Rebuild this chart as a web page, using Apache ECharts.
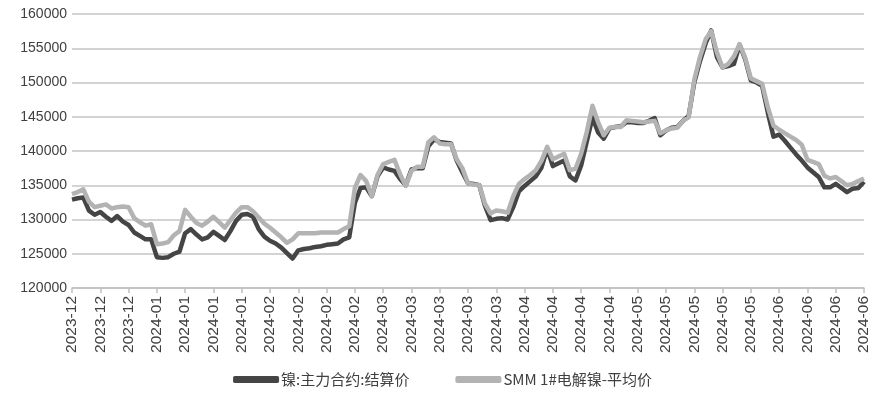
<!DOCTYPE html>
<html>
<head>
<meta charset="utf-8">
<script src="https://cdn.jsdelivr.net/npm/echarts@6/dist/echarts.min.js"></script>
<style>
html,body{margin:0;padding:0;background:#fff;}
#chart{width:885px;height:396px;}
</style>
</head>
<body>
<div id="chart"></div>
<script>
const tickLabels = ["2023-12","2023-12","2023-12","2024-01","2024-01","2024-01","2024-01","2024-02","2024-02","2024-02","2024-02","2024-03","2024-03","2024-03","2024-03","2024-03","2024-04","2024-04","2024-04","2024-04","2024-05","2024-05","2024-05","2024-05","2024-05","2024-06","2024-06","2024-06","2024-06"];
const pointsPerTick = 5;

const seriesNames = ["镍:主力合约:结算价", "SMM 1#电解镍-平均价"];

const futuresSettle = [
132900,133100,133200,131300,130700,131100,130400,129800,130500,129700,
129200,128100,127600,127100,127100,124500,124400,124500,125000,125300,
128000,128600,127800,127100,127400,128200,127600,127000,128300,129800,
130700,130800,130400,128600,127500,126900,126500,125900,125100,124300,
125500,125700,125800,126000,126100,126300,126400,126500,127100,127400,
132400,134600,134700,133400,136300,137600,137300,137100,135900,135000,
137300,137500,137500,140700,141700,141300,141200,141100,138600,136900,
135300,135200,135000,132000,129900,130100,130200,130000,131800,134100,
134900,135600,136300,137600,140300,137800,138200,138600,136300,135700,
137900,141400,144900,142700,141800,143300,143500,143600,144200,144200,
144100,144100,144400,144800,142300,143000,143400,143500,144400,145100,
150000,153100,155700,157600,153700,152200,152400,152700,155500,153400,
150300,150000,149500,145600,142100,142400,141500,140500,139500,138600,
137600,136900,136200,134700,134700,135200,134600,134000,134500,134600,
135500
];

const smmAverage = [
133700,134000,134400,132600,131800,132000,132200,131600,131800,131900,
131800,130200,129600,129100,129300,126400,126500,126700,127700,128300,
131400,130400,129500,129100,129700,130400,129600,128800,129900,131000,
131800,131800,131200,130300,129400,128800,128100,127400,126600,127100,
128000,128000,128000,128000,128100,128100,128100,128100,128600,129000,
134600,136500,135600,133400,136500,138100,138400,138700,136600,134900,
137100,137700,137700,141300,142000,141100,141000,141000,138800,137500,
135300,135100,135000,132300,130900,131300,131200,131000,133400,135200,
135900,136500,137200,138600,140600,138800,139200,139600,137200,137400,
139600,142800,146600,144200,142300,143400,143500,143500,144500,144400,
144300,144200,144300,144400,142600,143000,143300,143400,144400,144900,
150400,153700,156300,157500,154400,152200,152700,153800,155600,153600,
150600,150200,149800,146400,143700,143100,142600,142100,141600,140900,
138700,138400,138100,136400,136000,136200,135600,135000,135200,135600,
136000
];

const yMin = 120000, yMax = 160000, yStep = 5000;

const categories = futuresSettle.map((_, i) => tickLabels[Math.floor(i / pointsPerTick)]);

const chart = echarts.init(document.getElementById('chart'), null, {renderer: 'canvas'});
chart.setOption({
  animation: false,
  backgroundColor: '#ffffff',
  grid: {left: 72, right: 21, top: 14, bottom: 108, containLabel: false},
  legend: {
    bottom: 4,
    left: 'center',
    itemGap: 46,
    itemWidth: 46,
    itemHeight: 7,
    icon: 'roundRect',
    textStyle: {fontFamily: '"Noto Sans CJK SC", sans-serif', fontSize: 15, color: '#404040', padding: [0,0,0,-3]},
    data: seriesNames
  },
  xAxis: {
    type: 'category',
    data: categories,
    boundaryGap: false,
    axisLine: {lineStyle: {color: '#c0c0c0', width: 1.5}},
    axisTick: {show: true, interval: pointsPerTick - 1, length: 5, lineStyle: {color: '#c0c0c0', width: 1.5}},
    axisLabel: {
      interval: pointsPerTick - 1,
      rotate: 90,
      margin: 8,
      fontFamily: '"Liberation Sans", Arial, sans-serif',
      fontSize: 15.5,
      color: '#404040'
    },
    splitLine: {show: false}
  },
  yAxis: {
    type: 'value',
    min: yMin,
    max: yMax,
    interval: yStep,
    axisLine: {show: false},
    axisTick: {show: false},
    axisLabel: {
      margin: 5,
      fontFamily: '"Liberation Sans", Arial, sans-serif',
      fontSize: 14,
      color: '#404040',
      formatter: (v) => String(v)
    },
    splitLine: {lineStyle: {color: '#c4c4c4', width: 1.5}}
  },
  series: [
    {
      name: seriesNames[0],
      type: 'line',
      data: futuresSettle,
      showSymbol: false,
      symbol: 'none',
      lineStyle: {color: '#454545', width: 4.5, join: 'round'},
      itemStyle: {color: '#454545'},
      z: 2
    },
    {
      name: seriesNames[1],
      type: 'line',
      data: smmAverage,
      showSymbol: false,
      symbol: 'none',
      lineStyle: {color: '#b3b3b3', width: 4.5, join: 'round'},
      itemStyle: {color: '#b3b3b3'},
      z: 3
    }
  ]
});
</script>
</body>
</html>
